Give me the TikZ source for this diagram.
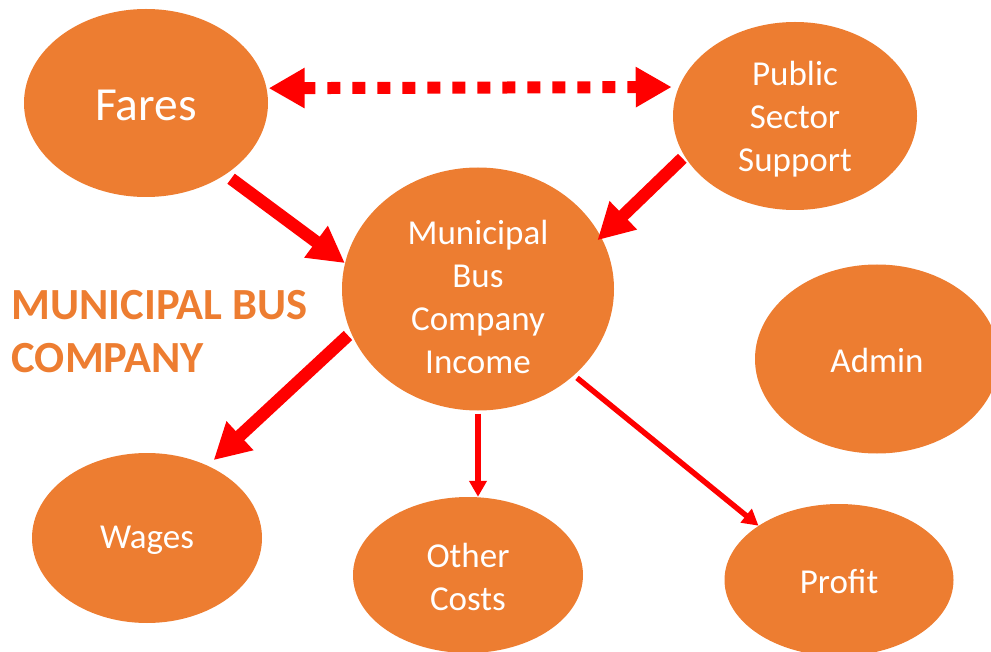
\documentclass[tikz,border=0pt]{standalone}
\usepackage{fontspec}
\setmainfont{Carlito}
\usetikzlibrary{arrows.meta,shapes.geometric}
\definecolor{bubble}{HTML}{ED7D31}
\definecolor{linkred}{HTML}{FF0000}

\begin{document}
\begin{tikzpicture}[x=1pt,y=-1pt,
  bubble/.style={ellipse, fill=bubble, inner sep=0pt},
  bubtext/.style={text=white, inner sep=0pt, align=center,
                  font=\fontsize{35}{43}\selectfont},
  bigflow/.style={draw=linkred, line width=12.5pt,
                  -{Triangle[length=36pt,width=37pt]}},
  thinflow/.style={draw=linkred, line width=5.5pt,
                   -{Triangle[length=16pt,width=17pt]}},
  linkflow/.style={draw=linkred, line width=12pt, dash pattern=on 13pt off 12pt,
                   {Triangle[length=36pt,width=38pt]}-{Triangle[length=36pt,width=38pt]}},
  heading/.style={inner sep=0pt, text=bubble, align=left,
                  font=\bfseries\fontsize{44.5}{53}\selectfont}]
\path[use as bounding box] (0,0) rectangle (991,652);

% sources and the company
\node[bubble, minimum width=244pt, minimum height=188pt] (fares) at (146,103) {};
\node[bubble, minimum width=244pt, minimum height=188pt] (pss) at (795,116) {};
\node[bubble, minimum width=272pt, minimum height=243pt] (income) at (478,289) {};
\node[bubble, minimum width=244pt, minimum height=189pt] (admin) at (877,359) {};

% spending
\node[bubble, minimum width=230pt, minimum height=170pt] (wages) at (147,538) {};
\node[bubble, minimum width=230pt, minimum height=156pt] (other) at (468,575) {};
\node[bubble, minimum width=229pt, minimum height=152pt] (profit) at (839,580) {};

% labels inside the bubbles, set a little below centre
\node[bubtext, font=\fontsize{47.5}{57}\selectfont] (faresText)
  at ([yshift=-2pt]fares.center) {Fares};
\node[bubtext] (pssText) at ([yshift=-3.5pt]pss.center) {Public\\Sector\\Support};
\node[bubtext] (incomeText) at ([yshift=-7.5pt]income.center)
  {Municipal\\Bus\\Company\\Income};
\node[bubtext] (adminText) at ([yshift=-1pt]admin.center) {Admin};
\node[bubtext] (wagesText) at ([yshift=-2pt]wages.center) {Wages};
\node[bubtext] (otherText) at ([yshift=-2pt]other.center) {Other\\Costs};
\node[bubtext] (profitText) at ([yshift=-2pt]profit.center) {Profit};

\node[heading, anchor=north west] (title) at (11.5,290) {MUNICIPAL BUS\\COMPANY};

% flows of money
\draw[linkflow, shorten <=2pt, shorten >=7pt] (fares.7) -- (pss.166);
\draw[bigflow, shorten <=7pt] (fares.-42) -- (income.169);
\draw[bigflow, shorten <=3pt, shorten >=-5pt] (pss.200) -- (income.23);
\draw[bigflow, shorten <=4pt, shorten >=8pt] (income.199) -- (wages.50);
\draw[thinflow, shorten <=3pt] (income.south) -- (income.south |- other.north);
\draw[thinflow, shorten <=4pt] (income.-42.6) -- (profit.146);
\end{tikzpicture}
\end{document}
